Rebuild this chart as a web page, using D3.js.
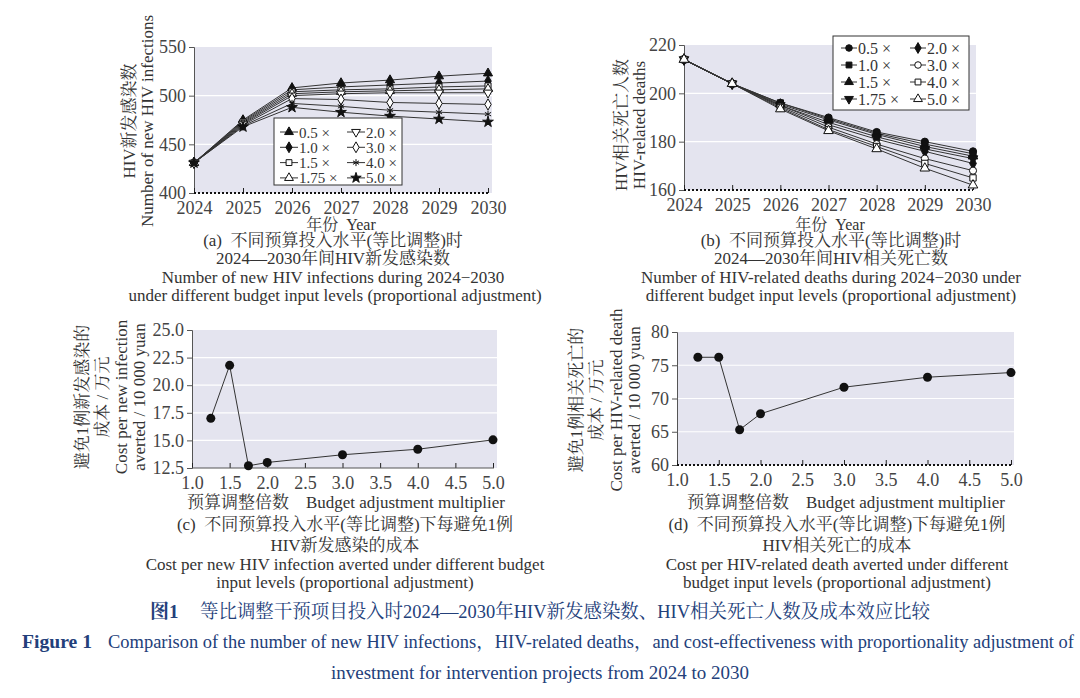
<!DOCTYPE html>
<html>
<head>
<meta charset="utf-8">
<script src="https://cdn.jsdelivr.net/npm/d3@7"></script>
<style>
body { margin: 0; background: #fff; }
text { font-family: "Liberation Serif", "Noto Serif CJK SC", "Noto Sans CJK SC", serif; white-space: pre; }
</style>
</head>
<body>
<svg id="fig" width="1080" height="698"></svg>
<script>
// ---- data ----
var years = [2024, 2025, 2026, 2027, 2028, 2029, 2030];
var multLabels = ["0.5 ×", "1.0 ×", "1.5 ×", "1.75 ×", "2.0 ×", "3.0 ×", "4.0 ×", "5.0 ×"];

var infections = [
  [431, 475, 508, 513, 516, 520, 523],
  [431, 474, 506, 509, 511, 513, 515],
  [431, 473, 504, 506, 507, 509, 510],
  [431, 472, 502, 504, 505, 506, 507],
  [431, 471, 500, 502, 503, 503, 503],
  [431, 470, 497, 496, 493, 492, 491],
  [431, 469, 492, 489, 485, 483, 481],
  [431, 468, 488, 483, 479, 476, 473]
];
var deaths = [
  [214, 204, 196, 190, 184, 180, 176],
  [214, 204, 196, 189.5, 183.5, 179, 175],
  [214, 204, 195.5, 189, 183, 178, 174],
  [214, 204, 195, 188, 182, 177, 173],
  [214, 204, 195, 187, 181, 176, 171],
  [214, 204, 194.5, 186, 179, 173, 168],
  [214, 204, 194, 185, 178, 171, 165],
  [214, 204, 193.5, 184.5, 177, 169, 162]
];
var multipliers = [1.25, 1.5, 1.75, 2.0, 3.0, 4.0, 5.0];
var costInfection = [17.0, 21.8, 12.7, 13.0, 13.7, 14.2, 15.05];
var costDeath = [76.2, 76.2, 65.3, 67.7, 71.7, 73.2, 73.9];

var ticksA = [400, 450, 500, 550];
var ticksB = [160, 180, 200, 220];
var ticksC = [12.5, 15.0, 17.5, 20.0, 22.5, 25.0];
var ticksD = [60, 65, 70, 75, 80];
var ticksMult = [1.0, 1.5, 2.0, 2.5, 3.0, 3.5, 4.0, 4.5, 5.0];

// marker styles: [symbol, filled, rotate]
var star5 = d3.symbolStar;
var aster = d3.symbolAsterisk || d3.symbolCross;
var markA = [
  [d3.symbolTriangle, true, 0], [d3.symbolDiamond, true, 0], [d3.symbolSquare, false, 0],
  [d3.symbolTriangle, false, 0], [d3.symbolTriangle, false, 180], [d3.symbolDiamond, false, 0],
  [aster, false, 0], [star5, true, 0]
];
var markB = [
  [d3.symbolCircle, true, 0], [d3.symbolSquare, true, 0], [d3.symbolTriangle, true, 0],
  [d3.symbolTriangle, true, 180], [d3.symbolDiamond, true, 0], [d3.symbolCircle, false, 0],
  [d3.symbolSquare, false, 0], [d3.symbolTriangle, false, 0]
];

var svg = d3.select("#fig");
var ink = "#333";
var axisCol = "#555";

function marker(g, m, x, y, size) {
  g.append("path")
    .attr("d", d3.symbol().type(m[0]).size(size)())
    .attr("transform", "translate(" + x + "," + y + ") rotate(" + m[2] + ")")
    .attr("fill", m[1] ? "#111" : "#fff")
    .attr("stroke", "#111")
    .attr("stroke-width", 1);
}

function frame(x, y, xt, yt, fmtX, fmtY, dotted, rectRight) {
  var x0 = x.range()[0], y0 = y.range()[0], y1 = y.range()[1];
  svg.append("rect")
    .attr("x", x0).attr("y", y1)
    .attr("width", rectRight - x0).attr("height", y0 - y1)
    .attr("fill", "#e4e4ef");
  svg.append("g").selectAll("line").data(yt.slice(1, -1)).enter().append("line")
    .attr("x1", x0).attr("x2", rectRight)
    .attr("y1", function(d) { return y(d); }).attr("y2", function(d) { return y(d); })
    .attr("stroke", "#fff").attr("stroke-width", 1.2);

  var ya = svg.append("g").attr("transform", "translate(" + x0 + ",0)")
    .call(d3.axisLeft(y).tickValues(yt).tickFormat(fmtY).tickSize(5).tickPadding(3));
  ya.select(".domain").attr("stroke", axisCol);
  ya.selectAll(".tick line").attr("stroke", axisCol);
  ya.selectAll("text").attr("font-size", 18).attr("fill", "#444");

  var xa = svg.append("g").attr("transform", "translate(0," + y0 + ")")
    .call(d3.axisBottom(x).tickValues(xt).tickFormat(fmtX).tickSize(-5).tickPadding(8));
  xa.select(".domain").remove();
  xa.selectAll(".tick line").attr("stroke", "#222");
  xa.selectAll("text").attr("font-size", 18).attr("fill", "#444");
  svg.append("line")
    .attr("x1", x0).attr("x2", rectRight - 3).attr("y1", y0).attr("y2", y0)
    .attr("stroke", dotted ? "#111" : axisCol)
    .attr("stroke-width", dotted ? 2 : 1)
    .attr("stroke-dasharray", dotted ? "2,2" : null);
}

function lines(x, y, data, marks, size) {
  var line = d3.line().x(function(d, i) { return x(years[i]); }).y(function(d) { return y(d); });
  var g = svg.append("g");
  data.forEach(function(s) {
    g.append("path").attr("d", line(s)).attr("fill", "none")
      .attr("stroke", ink).attr("stroke-width", 1);
  });
  data.forEach(function(s, k) {
    s.forEach(function(v, i) { marker(g, marks[k], x(years[i]), y(v), size); });
  });
}

// o: box x,y,w,h, first row y, row step, column x's, segment length, font size
function legend(o, marks) {
  var g = svg.append("g");
  g.append("rect").attr("x", o.x).attr("y", o.y).attr("width", o.w).attr("height", o.h)
    .attr("fill", "#fff").attr("stroke", "#333").attr("stroke-width", 1);
  multLabels.forEach(function(lab, k) {
    var col = k < 4 ? 0 : 1, row = k % 4;
    var lx = o.cols[col], ly = o.row0 + row * o.rowH;
    g.append("line").attr("x1", lx).attr("x2", lx + o.seg).attr("y1", ly).attr("y2", ly)
      .attr("stroke", ink).attr("stroke-width", 1);
    marker(g, marks[k], lx + o.seg / 2, ly, 34);
    g.append("text").attr("x", lx + o.seg + 1).attr("y", ly + 5.5)
      .attr("font-size", o.font).attr("fill", "#333").text(lab);
  });
}

function text(x, y, s, size, opts) {
  opts = opts || {};
  var t = svg.append("text").attr("x", x).attr("y", y)
    .attr("text-anchor", opts.anchor || "middle")
    .attr("font-size", size).attr("fill", opts.fill || "#333")
    .text(s);
  if (opts.rotate) t.attr("transform", "rotate(-90," + x + "," + y + ")");
  if (opts.weight) t.attr("font-weight", opts.weight);
  if (opts.len) t.attr("textLength", opts.len).attr("lengthAdjust", "spacingAndGlyphs");
  return t;
}

// ---- panel (a) ----
var xA = d3.scaleLinear().domain([2024, 2030]).range([194, 488]);
var yA = d3.scaleLinear().domain([400, 550]).range([193, 47]);
frame(xA, yA, years, ticksA, d3.format("d"), d3.format("d"), true, 492);
lines(xA, yA, infections, markA, 36);
legend({x: 274, y: 118, w: 128, h: 67, row0: 132, rowH: 15.3, cols: [280, 347], seg: 18, font: 15}, markA);
text(135, 121, "HIV新发感染数", 17, {rotate: true});
text(153, 121, "Number of new HIV infections", 17, {rotate: true});
text(341, 230, "年份  Year", 16);
text(333, 246, "(a)  不同预算投入水平(等比调整)时", 17);
text(333, 264, "2024—2030年间HIV新发感染数", 17);
text(333, 283, "Number of new HIV infections during 2024−2030", 17);
text(335, 301, "under different budget input levels (proportional adjustment)", 17);

// ---- panel (b) ----
var xB = d3.scaleLinear().domain([2024, 2030]).range([684, 973]);
var yB = d3.scaleLinear().domain([160, 220]).range([190, 45]);
frame(xB, yB, years, ticksB, d3.format("d"), d3.format("d"), true, 976);
lines(xB, yB, deaths, markB, 40);
legend({x: 833, y: 36, w: 136, h: 74, row0: 48, rowH: 17, cols: [841, 910], seg: 16, font: 16}, markB);
text(627, 125, "HIV相关死亡人数", 17, {rotate: true});
text(645, 125, "HIV-related deaths", 17, {rotate: true});
text(830, 230, "年份  Year", 16);
text(831, 246, "(b)  不同预算投入水平(等比调整)时", 17);
text(831, 264, "2024—2030年间HIV相关死亡数", 17);
text(831, 283, "Number of HIV-related deaths during 2024−2030 under", 17);
text(831, 301, "different budget input levels (proportional adjustment)", 17);

// ---- panels (c) and (d) ----
function scatter(x, y, vals) {
  var line = d3.line().x(function(d, i) { return x(multipliers[i]); }).y(function(d) { return y(d); });
  svg.append("path").attr("d", line(vals)).attr("fill", "none")
    .attr("stroke", ink).attr("stroke-width", 1);
  svg.append("g").selectAll("circle").data(vals).enter().append("circle")
    .attr("cx", function(d, i) { return x(multipliers[i]); })
    .attr("cy", function(d) { return y(d); })
    .attr("r", 4.5).attr("fill", "#111");
}

var xC = d3.scaleLinear().domain([1, 5]).range([192, 493]);
var yC = d3.scaleLinear().domain([12.5, 25]).range([468, 330]);
frame(xC, yC, ticksMult, ticksC, d3.format(".1f"), d3.format(".1f"), false, 497);
scatter(xC, yC, costInfection);
text(88, 397, "避免1例新发感染的", 17, {rotate: true});
text(108, 397, "成本 / 万元", 17, {rotate: true});
text(127, 397, "Cost per new infection", 17, {rotate: true});
text(145, 397, "averted / 10 000 yuan", 17, {rotate: true});
text(346, 508, "预算调整倍数    Budget adjustment multiplier", 17, {len: 318});
text(345, 530, "(c)  不同预算投入水平(等比调整)下每避免1例", 17);
text(345, 551, "HIV新发感染的成本", 17);
text(345, 570, "Cost per new HIV infection averted under different budget", 17);
text(345, 588, "input levels (proportional adjustment)", 17);

var xD = d3.scaleLinear().domain([1, 5]).range([677, 1011]);
var yD = d3.scaleLinear().domain([60, 80]).range([465, 332]);
frame(xD, yD, ticksMult, ticksD, d3.format(".1f"), d3.format("d"), true, 1014);
scatter(xD, yD, costDeath);
text(582, 400, "避免1例相关死亡的", 17, {rotate: true});
text(602, 400, "成本 / 万元", 17, {rotate: true});
text(622, 400, "Cost per HIV-related death", 17, {rotate: true});
text(640, 400, "averted / 10 000 yuan", 17, {rotate: true});
text(846, 508, "预算调整倍数    Budget adjustment multiplier", 17, {len: 318});
text(837, 530, "(d)  不同预算投入水平(等比调整)下每避免1例", 17);
text(837, 551, "HIV相关死亡的成本", 17);
text(837, 570, "Cost per HIV-related death averted under different", 17);
text(837, 588, "budget input levels (proportional adjustment)", 17);

// ---- figure caption ----
var navy = "#23407a";
text(150, 618, "图1", 19, {anchor: "start", fill: navy, weight: "bold"});
text(200, 618, "等比调整干预项目投入时2024—2030年HIV新发感染数、HIV相关死亡人数及成本效应比较", 19, {anchor: "start", fill: navy, len: 730});
text(22, 648, "Figure 1", 19, {anchor: "start", fill: navy, weight: "bold", len: 70});
text(108, 648, "Comparison of the number of new HIV infections，HIV-related deaths，and cost-effectiveness with proportionality adjustment of", 18, {anchor: "start", fill: navy, len: 966});
text(540, 679, "investment for intervention projects from 2024 to 2030", 18, {fill: navy, len: 418});
</script>
</body>
</html>
